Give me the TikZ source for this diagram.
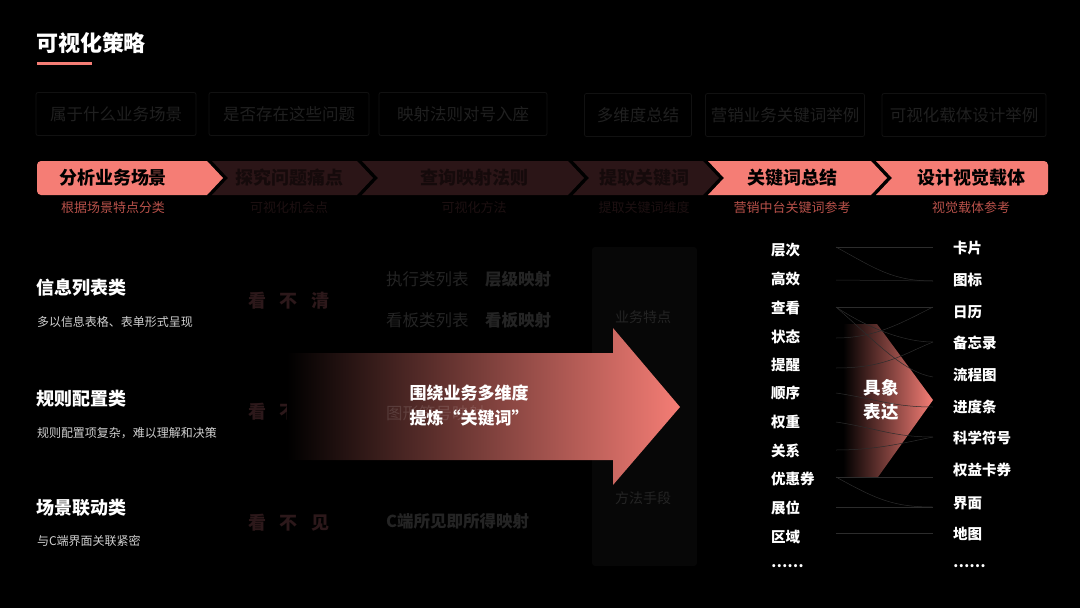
\documentclass[tikz,border=0pt]{standalone}
\usepackage{fontspec}
\setmainfont{Noto Sans CJK SC}
\usetikzlibrary{calc}
\definecolor{coral}{HTML}{F57D75}
\definecolor{dimchev}{HTML}{2B1517}
\definecolor{dimchevtxt}{HTML}{150A0B}
\definecolor{dimsub}{HTML}{1D1011}
\definecolor{subcoral}{HTML}{B8514A}
\definecolor{dimgrey}{HTML}{242424}
\definecolor{toptxt}{HTML}{202020}
\definecolor{boxline}{HTML}{111111}
\definecolor{maroontxt}{HTML}{2C181A}
\definecolor{desc}{HTML}{CFCFCF}
\definecolor{linkgrey}{HTML}{2C2C2C}
\definecolor{panel}{HTML}{070707}
\newcommand{\myfs}[1]{\fontsize{#1}{#1}\selectfont}
\tikzset{
  every node/.style={inner sep=0pt, outer sep=0pt},
  topbox/.style={draw=boxline, line width=0.8pt, rounded corners=2pt, minimum height=43pt, text=toptxt, font=\myfs{16.5}},
  chevtxt/.style={font=\myfs{18}\bfseries},
  subtxt/.style={font=\myfs{13}},
  headtxt/.style={anchor=west, text=white, font=\myfs{18}\bfseries},
  desctxt/.style={anchor=west, text=desc, font=\myfs{12}},
  seetxt/.style={anchor=west, text=maroontxt, font=\myfs{18}\bfseries},
  midtxt/.style={anchor=west, text=dimgrey, font=\myfs{16.5}},
  midbold/.style={anchor=west, text=dimgrey, font=\myfs{16.5}\bfseries},
  kwl/.style={anchor=west, text=white, font=\myfs{14.5}\bfseries},
  linkline/.style={draw=linkgrey, line width=0.5pt},
}
\newcommand{\chevshape}[3]{\fill[#3] (#1,161) -- (#2,161) -- ++(16,17) -- (#2,195) -- (#1,195) -- ++(16,-17) -- cycle;}
\begin{document}
\begin{tikzpicture}[x=1pt,y=-1pt]
\useasboundingbox (0,0) rectangle (1080,608);
\fill[black] (0,0) rectangle (1080,608);

% title
\node[anchor=west, text=white, font=\myfs{22}\bfseries] (title) at (36,43) {可视化策略};
\draw[coral, line width=3pt] (37,63) -- (92,63);

% top faint boxes
\node[topbox, minimum width=160pt] (b1) at (116,114) {属于什么业务场景};
\node[topbox, minimum width=160pt] (b2) at (289,114) {是否存在这些问题};
\node[topbox, minimum width=168pt] (b3) at (463,114) {映射法则对号入座};
\node[topbox, minimum width=107pt] (b4) at (638,115) {多维度总结};
\node[topbox, minimum width=159pt] (b5) at (785,115) {营销业务关键词举例};
\node[topbox, minimum width=164pt] (b6) at (964,115) {可视化载体设计举例};

% chevron bar
\fill[coral] (120,161) -- (207,161) -- (223,178) -- (207,195) -- (120,195) [rounded corners=4pt] -- (37,195) -- (37,161) -- cycle;
\chevshape{212}{357}{dimchev}
\chevshape{362}{568}{dimchev}
\chevshape{573}{703}{dimchev}
\chevshape{708}{871}{coral}
\fill[coral] (960,195) -- (876,195) -- (892,178) -- (876,161) -- (960,161) [rounded corners=4pt] -- (1048,161) -- (1048,195) -- cycle;

\node[chevtxt, text=black] (c1) at (113,178) {分析业务场景};
\node[chevtxt, text=dimchevtxt] (c2) at (289,178) {探究问题痛点};
\node[chevtxt, text=dimchevtxt] (c3) at (474,178) {查询映射法则};
\node[chevtxt, text=dimchevtxt] (c4) at (644,178) {提取关键词};
\node[chevtxt, text=black] (c5) at (792,178) {关键词总结};
\node[chevtxt, text=black] (c6) at (971,178) {设计视觉载体};

\node[subtxt, text=subcoral] (s1) at (113,208) {根据场景特点分类};
\node[subtxt, text=dimsub] (s2) at (289,208) {可视化机会点};
\node[subtxt, text=dimsub] (s3) at (474,208) {可视化方法};
\node[subtxt, text=dimsub] (s4) at (644,208) {提取关键词维度};
\node[subtxt, text=subcoral] (s5) at (792,208) {营销中台关键词参考};
\node[subtxt, text=subcoral] (s6) at (971,208) {视觉载体参考};

% left categories
\node[headtxt] (h1) at (36,288) {信息列表类};
\node[desctxt] (d1) at (37,322) {多以信息表格、表单形式呈现};
\node[headtxt] (h2) at (36,399) {规则配置类};
\node[desctxt] (d2) at (37,433) {规则配置项复杂，难以理解和决策};
\node[headtxt] (h3) at (36,508) {场景联动类};
\node[desctxt] (d3) at (37,541) {与C端界面关联紧密};

\node[seetxt] (p1) at (248,301) {看\hspace{13.5pt}不\hspace{13.5pt}清};
\node[seetxt] (p2) at (248,412) {看\hspace{13.5pt}不\hspace{13.5pt}懂};
\node[seetxt] (p3) at (248,523) {看\hspace{13.5pt}不\hspace{13.5pt}见};

% middle faint texts
\fill[panel, rounded corners=3pt] (592,247) rectangle (697,566);
\node[midtxt] (m1) at (386,279) {执行类列表};
\node[midbold] (m2) at (485,279) {层级映射};
\node[midtxt] (m3) at (386,320) {看板类列表};
\node[midbold] (m4) at (485,320) {看板映射};
\node[midbold] (m6) at (386,521) {C端所见即所得映射};
\node[text=dimgrey, font=\myfs{14}] (k1) at (643,317) {业务特点};
\node[text=dimgrey, font=\myfs{14}] (k2) at (643,498) {方法手段};

% big gradient arrow
\shade[left color=black, right color=coral] (287,353) -- (613,353) -- (613,328) -- (680,407) -- (613,485) -- (613,460) -- (287,460) -- cycle;
\node[midtxt, text=white, text opacity=0.12] (m5) at (386,413) {图形符号映射};
\node[text=white, font=\myfs{17}\bfseries, align=center] (arr) at (469,406) {围绕业务多维度\\[8pt]提炼“关键词”};

% right section pentagon
\shade[left color=black, middle color=coral!72!black, right color=coral] (843,324) -- (877,324) -- (933,400) -- (878,477) -- (843,477) -- cycle;
\node[text=white, font=\myfs{17.5}\bfseries, align=center] (jx) at (881,400) {具象\\[7pt]表达};

% keyword columns
\node[kwl] (l1) at (771,250) {层次};
\node[kwl] (l2) at (771,279) {高效};
\node[kwl] (l3) at (771,308) {查看};
\node[kwl] (l4) at (771,337) {状态};
\node[kwl] (l5) at (771,365) {提醒};
\node[kwl] (l6) at (771,393) {顺序};
\node[kwl] (l7) at (771,422) {权重};
\node[kwl] (l8) at (771,451) {关系};
\node[kwl] (l9) at (771,479) {优惠券};
\node[kwl] (l10) at (771,508) {展位};
\node[kwl] (l11) at (771,537) {区域};
\node[kwl] (l12) at (771,566) {……};

\node[kwl] (r1) at (953,248) {卡片};
\node[kwl] (r2) at (953,280) {图标};
\node[kwl] (r3) at (953,312) {日历};
\node[kwl] (r4) at (953,343) {备忘录};
\node[kwl] (r5) at (953,375) {流程图};
\node[kwl] (r6) at (953,407) {进度条};
\node[kwl] (r7) at (953,438) {科学符号};
\node[kwl] (r8) at (953,470) {权益卡券};
\node[kwl] (r9) at (953,503) {界面};
\node[kwl] (r10) at (953,534) {地图};
\node[kwl] (r11) at (953,566) {……};

% link anchors
\foreach \i/\y in {1/247,2/280,3/307,4/338,5/368,6/393,7/422,8/450,9/477,10/507,11/533}
  \coordinate (la\i) at (836,\y);
\foreach \i/\y in {1/247,2/281,3/307,4/342,5/377,6/407,7/437,8/477,9/507,10/533}
  \coordinate (ra\i) at (933,\y);

\draw[linkline] (la1) -- (ra1);
\draw[linkline] (la1) .. controls +(40,22) and +(-40,0) .. (ra2);
\draw[linkline] (la2) -- (ra2);
\draw[linkline] (la3) -- (ra3);
\draw[linkline] (la3) .. controls +(30,20) and +(-30,0) .. (ra4);
\draw[linkline] (la3) .. controls +(40,35) and +(-30,-5) .. (ra5);
\draw[linkline] (la4) .. controls +(40,0) and +(-30,15) .. (ra3);
\draw[linkline] (la5) .. controls +(50,0) and +(-30,12) .. (ra4);
\draw[linkline] (la6) .. controls +(40,6) and +(-40,0) .. (ra6);
\draw[linkline] (la7) .. controls +(40,6) and +(-40,0) .. (ra7);
\draw[linkline] (la8) .. controls +(40,0) and +(-30,6) .. (ra7);
\draw[linkline] (la9) -- (ra8);
\draw[linkline] (la9) .. controls +(40,22) and +(-40,0) .. (ra9);
\draw[linkline] (la10) -- (ra9);
\draw[linkline] (la11) -- (ra10);
\end{tikzpicture}
\end{document}
